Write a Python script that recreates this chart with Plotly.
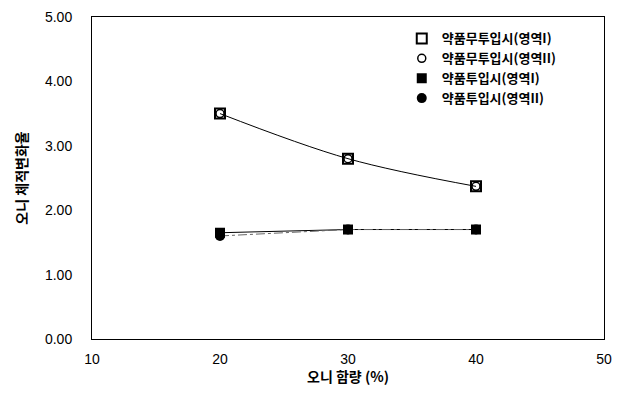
import plotly.graph_objects as go

x_vals = [20, 30, 40]
no_chem_I = [3.50, 2.80, 2.37]
no_chem_II = [3.50, 2.80, 2.37]
chem_I = [1.65, 1.70, 1.70]
chem_II = [1.60, 1.70, 1.70]
names = ["약품무투입시(영역I)", "약품무투입시(영역II)", "약품투입시(영역I)", "약품투입시(영역II)"]
x_ticks = [10, 20, 30, 40, 50]
y_ticks = [0, 1, 2, 3, 4, 5]

fig = go.Figure()
# connecting lines (not in legend)
fig.add_trace(go.Scatter(x=x_vals, y=no_chem_I, mode="lines", showlegend=False, hoverinfo="skip",
                         line=dict(color="black", width=1, shape="spline")))
fig.add_trace(go.Scatter(x=x_vals, y=chem_I, mode="lines", showlegend=False, hoverinfo="skip",
                         line=dict(color="black", width=1)))
fig.add_trace(go.Scatter(x=x_vals, y=chem_II, mode="lines", showlegend=False, hoverinfo="skip",
                         line=dict(color="#666", width=1, dash="dashdot")))
# markers (legend)
fig.add_trace(go.Scatter(x=x_vals, y=no_chem_I, name=names[0], mode="markers",
                         marker=dict(symbol="square-open", size=10, color="black", line=dict(width=2))))
fig.add_trace(go.Scatter(x=x_vals, y=no_chem_II, name=names[1], mode="markers",
                         marker=dict(symbol="circle-open", size=8, color="black", line=dict(width=1.5))))
fig.add_trace(go.Scatter(x=x_vals, y=chem_I, name=names[2], mode="markers",
                         marker=dict(symbol="square", size=10, color="black")))
fig.add_trace(go.Scatter(x=x_vals, y=chem_II, name=names[3], mode="markers",
                         marker=dict(symbol="circle", size=10, color="black")))

fig.update_layout(
    width=605, height=378,
    margin=dict(l=84, r=9, t=9, b=47),
    paper_bgcolor="white", plot_bgcolor="white",
    font=dict(family="Liberation Sans, Arial", size=13, color="black"),
    legend=dict(x=0.605, y=0.98, xanchor="left", yanchor="top",
                font=dict(family="Noto Sans CJK KR", size=13, weight="bold"),
                bgcolor="rgba(0,0,0,0)", tracegroupgap=0, itemwidth=30),
    showlegend=True,
)
fig.update_xaxes(range=[10, 50], tickvals=x_ticks, showgrid=False, zeroline=False,
                 showline=True, linecolor="black", linewidth=1, mirror=True,
                 ticks="", ticklen=0, tickfont=dict(size=14), ticklabelstandoff=7,
                 ticklabeloverflow="allow", automargin=False,
                 title=dict(text="오니 함량 (%)", font=dict(family="Noto Sans CJK KR", size=14, weight="bold"), standoff=15))
fig.update_yaxes(range=[0, 5], tickvals=y_ticks, tickformat=".2f", showgrid=False, zeroline=False,
                 showline=True, linecolor="black", linewidth=1, mirror=True,
                 ticks="", ticklen=0, tickfont=dict(size=14), ticklabelstandoff=16,
                 automargin=False,
                 title=dict(text="오니 체적변화율", font=dict(family="Noto Sans CJK KR", size=14, weight="bold"), standoff=14))

fig.write_html("out.html")
